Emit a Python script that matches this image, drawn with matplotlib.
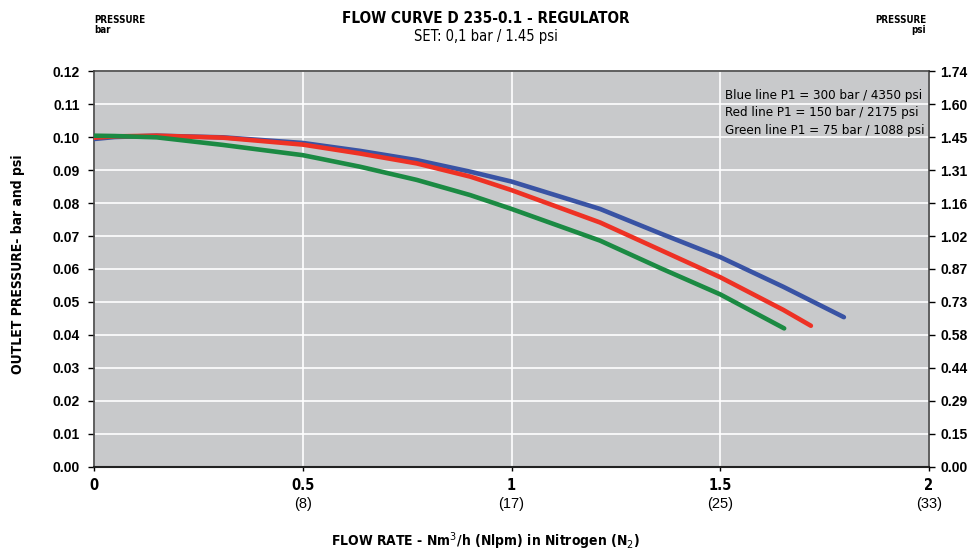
import matplotlib.pyplot as plt
from matplotlib.ticker import MultipleLocator

# flow rate in Nm3/h and outlet pressure in bar
blue_x = [0.0, 0.05, 0.15, 0.309, 0.5, 0.637, 0.773, 0.901, 1.0, 1.212, 1.356, 1.5, 1.651, 1.796]
blue_y = [0.0994, 0.1000, 0.1004, 0.0999, 0.0982, 0.0958, 0.0930, 0.0895, 0.0865, 0.0782,
          0.0708, 0.0636, 0.0546, 0.0454]
red_x = [0.0, 0.05, 0.15, 0.309, 0.5, 0.637, 0.773, 0.901, 1.0, 1.212, 1.356, 1.5, 1.651, 1.717]
red_y = [0.0998, 0.1002, 0.1004, 0.0998, 0.0977, 0.0950, 0.0920, 0.0880, 0.0839, 0.0741,
         0.0658, 0.0575, 0.0476, 0.0428]
green_x = [0.0, 0.05, 0.15, 0.309, 0.5, 0.637, 0.773, 0.901, 1.0, 1.212, 1.356, 1.5, 1.653]
green_y = [0.1004, 0.1003, 0.0999, 0.0976, 0.0945, 0.0910, 0.0870, 0.0824, 0.0782, 0.0686,
           0.0603, 0.0523, 0.0420]

x_ticks = [0, 0.5, 1, 1.5, 2]
x_nlpm = ["", "(8)", "(17)", "(25)", "(33)"]
psi_labels = ["0.00", "0.15", "0.29", "0.44", "0.58", "0.73", "0.87",
              "1.02", "1.16", "1.31", "1.45", "1.60", "1.74"]
legend_lines = ["Blue line P1 = 300 bar / 4350 psi",
                "Red line P1 = 150 bar / 2175 psi",
                "Green line P1 = 75 bar / 1088 psi"]

plt.rcParams['font.family'] = ["Liberation Sans", "DejaVu Sans"]
cond = dict(family="DejaVu Sans", fontstretch="condensed")

fig = plt.figure(figsize=(9.71, 5.51), dpi=100)
ax = fig.add_axes([0.0968, 0.1525, 0.86, 0.7186])
ax.set_facecolor("#c8c9cb")

ax.plot(blue_x, blue_y, color="#3953a4", lw=3.3, solid_capstyle="round", zorder=3)
ax.plot(red_x, red_y, color="#ee3124", lw=3.3, solid_capstyle="round", zorder=4)
ax.plot(green_x, green_y, color="#1b8a43", lw=3.3, solid_capstyle="round", zorder=5)

ax.set_xlim(0, 2)
ax.set_ylim(0, 0.12)
ax.yaxis.set_major_locator(MultipleLocator(0.01))
ax.set_yticklabels([f"{v:.2f}" for v in ax.get_yticks()])
ax.set_xticks(x_ticks)
ax.set_xticklabels([])
ax.grid(True, color="white", lw=1.2)
ax.set_axisbelow(True)
ax.tick_params(axis="y", length=4, width=1, labelsize=10, pad=6)
ax.tick_params(axis="x", length=3, width=1)
for lab in ax.get_yticklabels():
    lab.set_fontweight("bold")
for s in ax.spines.values():
    s.set_color("#444444")
    s.set_linewidth(1.2)
ax.spines["bottom"].set_color("#222222")
ax.spines["bottom"].set_linewidth(1.5)

ax2 = ax.twinx()
ax2.set_ylim(0, 0.12)
ax2.set_yticks([i * 0.01 for i in range(13)])
ax2.set_yticklabels(psi_labels, fontweight="bold", fontsize=10)
ax2.tick_params(axis="y", length=4, width=1, pad=4)
for s in ax2.spines.values():
    s.set_visible(False)

# x tick labels: Nm3/h in bold, Nlpm in brackets underneath
for xv, nl in zip(x_ticks, x_nlpm):
    ax.text(xv, -0.028, f"{xv:g}", transform=ax.get_xaxis_transform(),
            ha="center", va="top", fontsize=10.5, fontweight="bold", **cond)
    ax.text(xv, -0.076, nl, transform=ax.get_xaxis_transform(),
            ha="center", va="top", fontsize=10.5)

ax.text(0.756, 0.955, "\n".join(legend_lines), transform=ax.transAxes,
        ha="left", va="top", fontsize=9.5, linespacing=1.45, **cond)

fig.text(0.5, 0.966, "FLOW CURVE D 235-0.1 - REGULATOR", ha="center", va="center",
         fontweight="bold", fontsize=11, **cond)
fig.text(0.5, 0.934, "SET: 0,1 bar / 1.45 psi", ha="center", va="center",
         fontsize=10.5, **cond)
fig.text(0.097, 0.954, "PRESSURE\nbar", ha="left", va="center",
         fontweight="bold", fontsize=7, linespacing=1.0, **cond)
fig.text(0.954, 0.954, "PRESSURE\npsi", ha="right", va="center",
         fontweight="bold", fontsize=7, linespacing=1.0, multialignment="right", **cond)
fig.text(0.019, 0.52, "OUTLET PRESSURE- bar and psi", rotation=90, ha="center",
         va="center", fontweight="bold", fontsize=10, **cond)
fig.text(0.5, 0.018, "FLOW RATE - Nm$^3$/h (Nlpm) in Nitrogen (N$_2$)", ha="center",
         va="center", fontweight="bold", fontsize=10, **cond)

fig.savefig("out.png", dpi=100, facecolor="white")
